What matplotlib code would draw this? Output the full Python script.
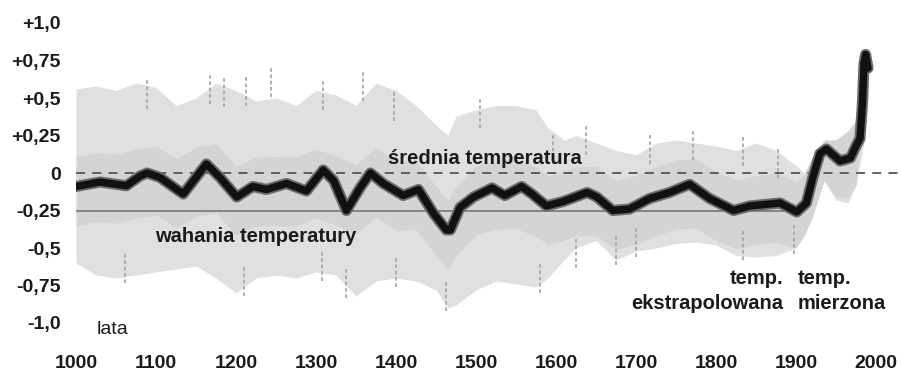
import numpy as np
import matplotlib
matplotlib.use("Agg")
import matplotlib.pyplot as plt

plt.rcParams['font.family'] = ['Liberation Sans', 'DejaVu Sans']

# ---- data ----
curve_years = [1000, 1030, 1063, 1080, 1089, 1105, 1134, 1163, 1180, 1201, 1221, 1238,
               1263, 1288, 1309, 1322, 1338, 1355, 1368, 1384, 1409, 1428, 1447, 1463,
               1468, 1480, 1497, 1520, 1536, 1557, 1570, 1588, 1609, 1639, 1651, 1671,
               1692, 1717, 1742, 1767, 1792, 1822, 1842, 1880, 1901, 1913, 1921, 1930,
               1938, 1955, 1968, 1975, 1980, 1983, 1985, 1987, 1990]
curve_vals = [-0.09, -0.06, -0.085, -0.02, 0.0, -0.03, -0.14, 0.06, -0.03, -0.16, -0.09, -0.11,
              -0.07, -0.12, 0.02, -0.05, -0.25, -0.10, 0.0, -0.07, -0.15, -0.11, -0.27, -0.38,
              -0.38, -0.23, -0.16, -0.10, -0.15, -0.09, -0.14, -0.22, -0.19, -0.13, -0.16, -0.25,
              -0.24, -0.17, -0.13, -0.075, -0.17, -0.25, -0.22, -0.20, -0.26, -0.20, -0.03, 0.13,
              0.16, 0.08, 0.10, 0.18, 0.23, 0.46, 0.73, 0.79, 0.70]

band_years = [1000, 1025, 1050, 1075, 1100, 1125, 1150, 1175, 1200, 1225, 1250, 1275, 1300,
              1325, 1350, 1375, 1400, 1425, 1450, 1465, 1475, 1500, 1525, 1550, 1575, 1590,
              1610, 1625, 1650, 1675, 1700, 1725, 1750, 1775, 1800, 1825, 1850, 1875, 1900,
              1910, 1920, 1935, 1950, 1965, 1975, 1985, 1990]
band_upper = [0.56, 0.58, 0.55, 0.60, 0.57, 0.45, 0.50, 0.60, 0.55, 0.48, 0.50, 0.45, 0.55,
              0.52, 0.45, 0.60, 0.55, 0.45, 0.32, 0.25, 0.38, 0.42, 0.45, 0.45, 0.42, 0.30,
              0.22, 0.25, 0.20, 0.15, 0.12, 0.20, 0.22, 0.20, 0.18, 0.15, 0.20, 0.15, 0.05,
              0.00, 0.10, 0.22, 0.22, 0.28, 0.35, 0.80, 0.75]
band_lower = [-0.60, -0.68, -0.70, -0.68, -0.66, -0.64, -0.62, -0.70, -0.80, -0.70, -0.68, -0.70, -0.66,
              -0.68, -0.82, -0.72, -0.70, -0.72, -0.78, -0.90, -0.88, -0.78, -0.72, -0.74, -0.76, -0.70,
              -0.58, -0.50, -0.45, -0.58, -0.52, -0.50, -0.47, -0.46, -0.48, -0.55, -0.56, -0.55, -0.50,
              -0.42, -0.30, -0.05, -0.18, -0.20, -0.08, 0.20, 0.50]

spike_up_years = [1089, 1168, 1185, 1212, 1244, 1309, 1359, 1397, 1505, 1596, 1638, 1717, 1771, 1834, 1877]
spike_up_tops = [0.63, 0.66, 0.64, 0.65, 0.71, 0.62, 0.68, 0.55, 0.50, 0.26, 0.32, 0.26, 0.29, 0.25, 0.17]
spike_dn_years = [1061, 1210, 1308, 1338, 1400, 1462, 1580, 1625, 1675, 1700, 1834, 1897]
spike_dn_bottoms = [-0.73, -0.82, -0.72, -0.83, -0.76, -0.92, -0.80, -0.63, -0.61, -0.56, -0.58, -0.54]

y_ticks = [1.0, 0.75, 0.5, 0.25, 0.0, -0.25, -0.5, -0.75, -1.0]
y_labels = ['+1,0', '+0,75', '+0,5', '+0,25', '0', '-0,25', '-0,5', '-0,75', '-1,0']
x_ticks = [1000, 1100, 1200, 1300, 1400, 1500, 1600, 1700, 1800, 1900, 2000]

# ---- figure ----
fig = plt.figure(figsize=(9.01, 3.72), dpi=100)
ax = fig.add_axes([76 / 901, 49 / 372, 824 / 901, 300 / 372])
ax.set_xlim(1000, 2030)
ax.set_ylim(-1.0, 1.0)

ax.fill_between(band_years, band_lower, band_upper, color='#e0e0e0', lw=0, zorder=1)
mid = np.interp(band_years, curve_years, curve_vals)
ax.fill_between(band_years, np.maximum(mid - 0.26, band_lower), np.minimum(mid + 0.2, band_upper),
                color='#d4d4d4', lw=0, zorder=1)

ax.vlines(spike_up_years, np.array(spike_up_tops) - 0.2, spike_up_tops, color='#a8a8a8',
          lw=1.3, ls=(0, (2, 1.5)), zorder=2)
ax.vlines(spike_dn_years, spike_dn_bottoms, np.array(spike_dn_bottoms) + 0.2, color='#a8a8a8',
          lw=1.3, ls=(0, (2, 1.5)), zorder=2)

ax.plot([1000, 2030], [0, 0], ls=(0, (5, 4)), color='#555555', lw=1.3, zorder=3)
ax.plot([1000, 1900], [-0.25, -0.25], color='#777777', lw=1.2, zorder=3)

ax.plot(curve_years, curve_vals, color='#6a6a6a', lw=8, solid_capstyle='round', zorder=4)
ax.plot(curve_years, curve_vals, color='#111111', lw=5.3, solid_capstyle='round',
        solid_joinstyle='round', zorder=5)

for s in ax.spines.values():
    s.set_visible(False)
ax.set_yticks(y_ticks)
ax.set_yticklabels(y_labels)
ax.set_xticks(x_ticks)
ax.tick_params(axis='both', length=0, labelsize=14, colors='#1a1a1a')
ax.tick_params(axis='y', pad=11)
ax.tick_params(axis='x', pad=23)
for lab in ax.get_xticklabels() + ax.get_yticklabels():
    lab.set_fontweight('bold')

tkw = dict(fontsize=14.5, fontweight='bold', color='#1a1a1a', zorder=6)
ax.text(1390, 0.10, 'średnia temperatura', ha='left', va='center', **tkw)
ax.text(1099, -0.42, 'wahania temperatury', ha='left', va='center', **tkw)
ax.text(1884, -0.70, 'temp.', ha='right', va='center', **tkw)
ax.text(1884, -0.867, 'ekstrapolowana', ha='right', va='center', **tkw)
ax.text(1902, -0.70, 'temp.', ha='left', va='center', **tkw)
ax.text(1902, -0.867, 'mierzona', ha='left', va='center', **tkw)
ax.text(1026, -1.04, 'lata', ha='left', va='center', fontsize=14, color='#1a1a1a', zorder=6)

fig.savefig('out.png', dpi=100)
